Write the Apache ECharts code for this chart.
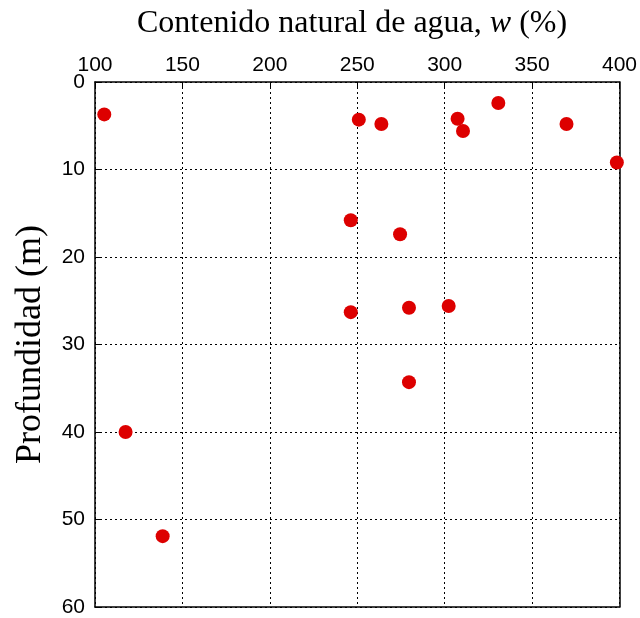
<!DOCTYPE html>
<html>
<head>
    <meta charset="utf-8">
    <title>Contenido natural de agua</title>
    <script src="https://cdn.jsdelivr.net/npm/echarts@6/dist/echarts.min.js"></script>
</head>
<body style="margin:0">
    <div id="main" style="width: 640px;height:618px;"></div>
    <script type="text/javascript">
        // contenido de agua w (%) y profundidad (m)
        var waterContent = [105.3, 250.9, 263.8, 307.4, 310.5, 330.7, 369.7, 398.5,
                            246.3, 274.5, 246.3, 279.6, 302.3, 279.6, 117.5, 138.7];
        var depth = [3.7, 4.3, 4.8, 4.2, 5.6, 2.4, 4.8, 9.2,
                     15.8, 17.4, 26.3, 25.8, 25.6, 34.3, 40.0, 51.9];

        var xTicks = [100, 150, 200, 250, 300, 350, 400];
        var yTicks = [0, 10, 20, 30, 40, 50, 60];

        var points = [];
        for (var i = 0; i < waterContent.length; i++) {
            points.push([waterContent[i], depth[i]]);
        }

        var myChart = echarts.init(document.getElementById('main'));
        var serif = '"Liberation Serif", "DejaVu Serif", serif';
        var sans = '"Liberation Sans", Arial, sans-serif';
        var dots = { color: '#000', width: 1, type: [2, 3] };
        var frame = { show: true, onZero: false, lineStyle: { color: '#000', width: 1.5 } };

        var option = {
            backgroundColor: '#fff',
            animation: false,
            title: {
                text: '{a|Contenido natural de agua, }{b|w}{a| (%)}',
                left: 132,
                top: 3,
                textStyle: {
                    fontWeight: 'normal',
                    rich: {
                        a: { fontFamily: serif, fontSize: 32, fontWeight: 'normal', color: '#000' },
                        b: { fontFamily: serif, fontSize: 32, fontWeight: 'normal', fontStyle: 'italic', color: '#000' }
                    }
                }
            },
            grid: { left: 95, right: 20, top: 82, bottom: 11 },
            xAxis: [{
                type: 'value',
                position: 'top',
                min: xTicks[0],
                max: xTicks[xTicks.length - 1],
                interval: 50,
                axisLine: frame,
                axisTick: { show: true, inside: true, length: 6, lineStyle: { color: '#000' } },
                axisLabel: { color: '#000', fontSize: 21, fontFamily: sans, margin: 6 },
                splitLine: { show: true, lineStyle: dots }
            }, {
                type: 'value',
                position: 'bottom',
                min: xTicks[0],
                max: xTicks[xTicks.length - 1],
                axisLine: frame,
                axisTick: { show: false },
                axisLabel: { show: false },
                splitLine: { show: false }
            }],
            yAxis: [{
                type: 'value',
                inverse: true,
                min: yTicks[0],
                max: yTicks[yTicks.length - 1],
                interval: 10,
                name: 'Profundidad (m)',
                nameLocation: 'middle',
                nameGap: 46,
                nameTextStyle: { fontFamily: serif, fontSize: 36, color: '#000' },
                axisLine: frame,
                axisTick: { show: true, inside: true, length: 6, lineStyle: { color: '#000' } },
                axisLabel: { color: '#000', fontSize: 21, fontFamily: sans, margin: 10 },
                splitLine: { show: true, lineStyle: dots }
            }, {
                type: 'value',
                position: 'right',
                inverse: true,
                min: yTicks[0],
                max: yTicks[yTicks.length - 1],
                axisLine: frame,
                axisTick: { show: false },
                axisLabel: { show: false },
                splitLine: { show: false }
            }],
            series: [{
                type: 'scatter',
                xAxisIndex: 0,
                yAxisIndex: 0,
                data: points,
                symbolSize: 14,
                itemStyle: { color: '#dd0000', opacity: 1 }
            }]
        };

        myChart.setOption(option);
    </script>
</body>
</html>
